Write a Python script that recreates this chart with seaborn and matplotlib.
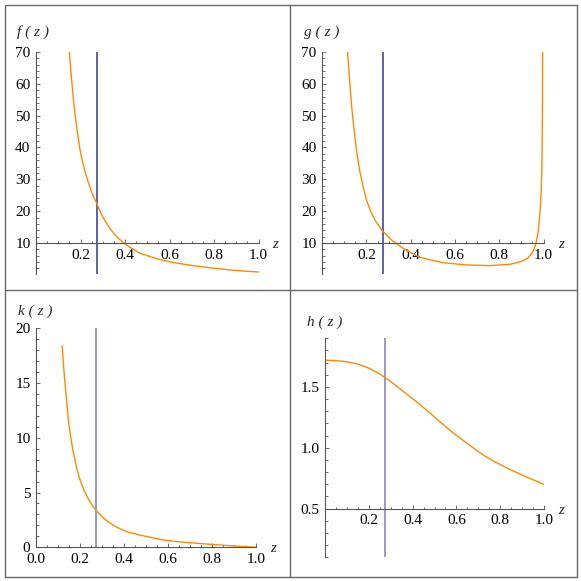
import matplotlib.pyplot as plt
import matplotlib.ticker as mticker
from matplotlib.lines import Line2D
import seaborn as sns

W = 581

# values
f_z = [0.150, 0.155, 0.160, 0.168, 0.175, 0.183, 0.190, 0.198, 0.210, 0.222, 0.235,
       0.250, 0.262, 0.273, 0.285, 0.300, 0.318, 0.335, 0.350, 0.370, 0.392, 0.430,
       0.467, 0.510, 0.550, 0.600, 0.650, 0.700, 0.767, 0.850, 0.920, 1.000]
f_v = [70, 65.5, 61.3, 55.2, 50.8, 46.4, 42.9, 39.2, 35.3, 32.0, 29.1,
       26.0, 24.0, 22.5, 20.4, 18.2, 16.1, 14.3, 13.0, 11.5, 10.1, 8.3,
       6.8, 5.8, 4.9, 4.1, 3.5, 2.95, 2.35, 1.7, 1.25, 0.9]

g_z = [0.115, 0.120, 0.125, 0.133, 0.145, 0.155, 0.170, 0.185, 0.200, 0.216, 0.240,
       0.271, 0.314, 0.366, 0.440, 0.547, 0.653, 0.758, 0.848, 0.900, 0.930, 0.950,
       0.965, 0.976, 0.984, 0.990, 0.993, 0.995, 0.996]
g_v = [70, 65, 60, 53, 45, 39, 32.5, 27.7, 23.5, 20.4, 17,
       13.9, 10.9, 8.3, 5.5, 3.8, 3.1, 2.9, 3.3, 4.2, 5.3, 7,
       9.5, 13.5, 19.3, 27, 35, 50, 70]

k_z = [0.119, 0.125, 0.132, 0.140, 0.147, 0.158, 0.169, 0.185, 0.200, 0.218, 0.238,
       0.258, 0.278, 0.305, 0.336, 0.370, 0.412, 0.472, 0.520, 0.578, 0.650, 0.730,
       0.800, 0.880, 0.940, 1.000]
k_v = [18.4, 16.6, 14.9, 13.2, 11.6, 10.0, 8.7, 7.2, 6.15, 5.2, 4.4,
       3.74, 3.25, 2.7, 2.2, 1.8, 1.43, 1.12, 0.9, 0.67, 0.5, 0.37,
       0.26, 0.15, 0.07, 0.0]

h_z = [0.0, 0.05, 0.10, 0.15, 0.20, 0.25, 0.30, 0.36, 0.42, 0.481, 0.53,
       0.587, 0.65, 0.709, 0.77, 0.83, 0.92, 1.0]
h_v = [1.72, 1.717, 1.707, 1.688, 1.655, 1.607, 1.545, 1.46, 1.375, 1.284, 1.205,
       1.12, 1.035, 0.957, 0.89, 0.834, 0.76, 0.70]

z_mark = 0.274

sns.set_style("white")
plt.rcParams['font.family'] = ['Liberation Serif', 'DejaVu Serif']

ORANGE = '#ff8a00'
AXC = '#555555'

fig = plt.figure(figsize=(5.81, 5.81), dpi=100)


def px_axes(x0, x1, ytop, ybot):
    return fig.add_axes([x0 / W, 1 - ybot / W, (x1 - x0) / W, (ybot - ytop) / W])


def setup(ax, ylim, cross, xticks, yticks, xminor, yminor, yfmt):
    ax.set_xlim(0, 1)
    ax.set_ylim(*ylim)
    ax.set_facecolor('none')
    for s in ['top', 'right']:
        ax.spines[s].set_visible(False)
    ax.spines['bottom'].set_position(('data', cross))
    ax.spines['left'].set_position(('data', 0))
    for s in ['bottom', 'left']:
        ax.spines[s].set_color(AXC)
        ax.spines[s].set_linewidth(0.8)
    ax.set_xticks(xticks)
    ax.set_yticks(yticks)
    ax.xaxis.set_major_formatter(mticker.FormatStrFormatter('%.1f'))
    ax.yaxis.set_major_formatter(mticker.FormatStrFormatter(yfmt))
    ax.xaxis.set_minor_locator(mticker.MultipleLocator(xminor))
    ax.yaxis.set_minor_locator(mticker.MultipleLocator(yminor))
    ax.tick_params(which='both', direction='in', color=AXC, width=0.6,
                   labelsize=11, labelcolor='black', bottom=True, left=True)
    ax.tick_params(which='major', length=3.2, pad=4)
    ax.tick_params(which='minor', length=1.8)
    ax.set_xlabel('')
    ax.set_ylabel('')


def draw(ax, z, v, line_color):
    ax.axvline(z_mark, color=line_color, lw=1.1)
    sns.lineplot(x=z, y=v, ax=ax, color=ORANGE, lw=1.0, errorbar=None,
                 solid_joinstyle='round')


ax1 = px_axes(36, 258.5, 52, 274)
draw(ax1, f_z, f_v, '#34349e')
setup(ax1, (0.26, 70), 10, [0.2, 0.4, 0.6, 0.8, 1.0], [10, 20, 30, 40, 50, 60, 70], 0.05, 2, '%d')

ax2 = px_axes(322.2, 543.5, 52, 274)
draw(ax2, g_z, g_v, '#34349e')
setup(ax2, (0.26, 70), 10, [0.2, 0.4, 0.6, 0.8, 1.0], [10, 20, 30, 40, 50, 60, 70], 0.05, 2, '%d')

ax3 = px_axes(36, 256.3, 328.3, 547.3)
draw(ax3, k_z, k_v, '#7a7ac8')
setup(ax3, (0, 20), 0, [0.0, 0.2, 0.4, 0.6, 0.8, 1.0], [0, 5, 10, 15, 20], 0.05, 1, '%d')

ax4 = px_axes(325, 544, 338.3, 557.3)
draw(ax4, h_z, h_v, '#7a7ac8')
setup(ax4, (0.1, 1.9), 0.5, [0.2, 0.4, 0.6, 0.8, 1.0], [0.5, 1.0, 1.5], 0.05, 0.1, '%.1f')

# function and variable labels
lab = dict(fontsize=11, style='italic', va='center')
fig.text(17 / W, 1 - 32 / W, 'f ( z )', ha='left', **lab)
fig.text(304 / W, 1 - 32 / W, 'g ( z )', ha='left', **lab)
fig.text(18 / W, 1 - 311 / W, 'k ( z )', ha='left', **lab)
fig.text(307 / W, 1 - 322 / W, 'h ( z )', ha='left', **lab)
fig.text(275 / W, 1 - 245 / W, 'z', ha='center', **lab)
fig.text(561 / W, 1 - 244 / W, 'z', ha='center', **lab)
fig.text(273 / W, 1 - 549 / W, 'z', ha='center', **lab)
fig.text(561 / W, 1 - 510 / W, 'z', ha='center', **lab)

# panel frames
for xp in [4.5, 290, 577]:
    fig.add_artist(Line2D([xp / W, xp / W], [1 - 4.5 / W, 1 - 576.5 / W], color='#666666', lw=1.0))
for yp in [4.5, 290, 576.5]:
    fig.add_artist(Line2D([4.5 / W, 577 / W], [1 - yp / W, 1 - yp / W], color='#666666', lw=1.0))

fig.savefig('out.png', dpi=100)
